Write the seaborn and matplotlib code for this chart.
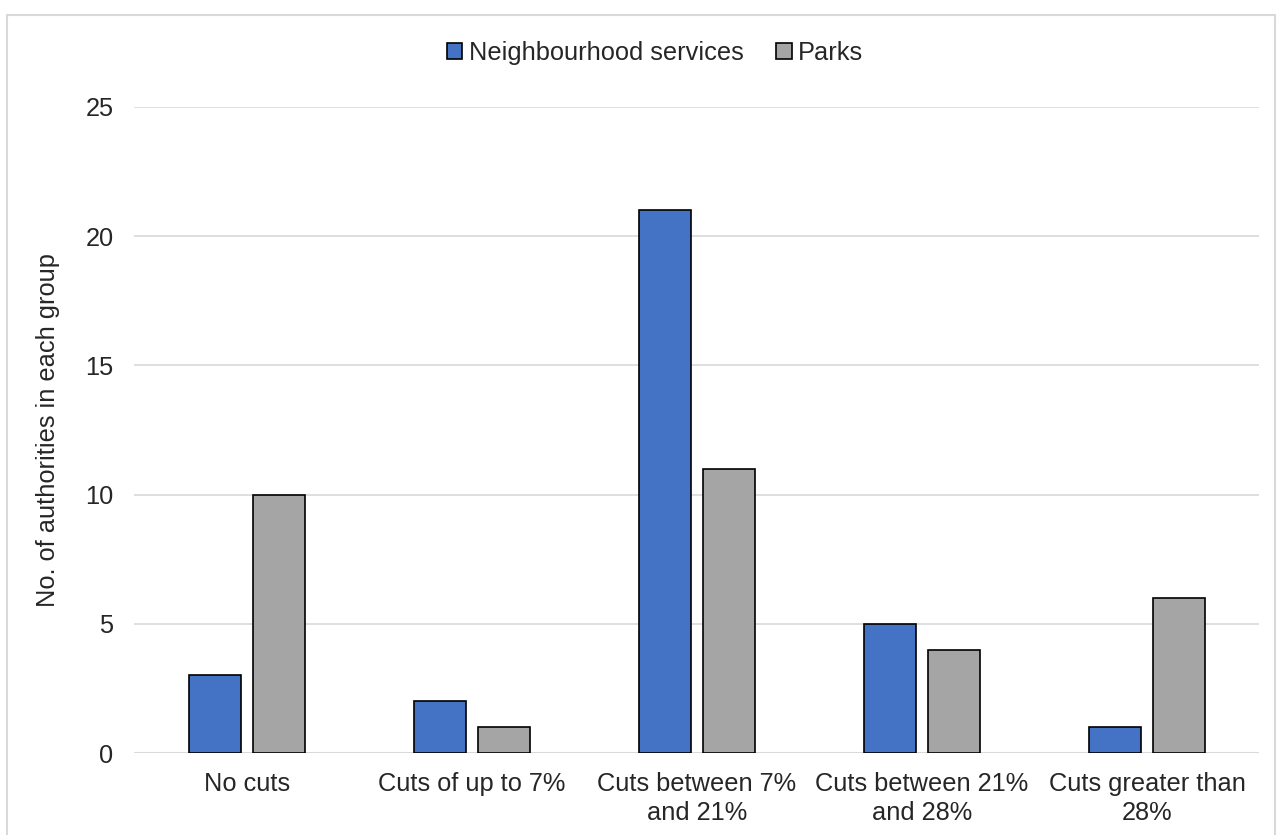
import matplotlib
matplotlib.use("Agg")
import matplotlib.pyplot as plt
from matplotlib.patches import Rectangle
import pandas as pd
import seaborn as sns

categories = [
    "No cuts",
    "Cuts of up to 7%",
    "Cuts between 7%\nand 21%",
    "Cuts between 21%\nand 28%",
    "Cuts greater than\n28%",
]
neighbourhood_services = [3, 2, 21, 5, 1]
parks = [10, 1, 11, 4, 6]
series_names = ["Neighbourhood services", "Parks"]
y_ticks = [0, 5, 10, 15, 20, 25]

df = pd.DataFrame({
    "category": categories * 2,
    "series": [series_names[0]] * len(categories) + [series_names[1]] * len(categories),
    "value": neighbourhood_services + parks,
})

sns.set_theme(style="white")
plt.rcParams["font.family"] = ["Liberation Sans", "DejaVu Sans"]

fig = plt.figure(figsize=(12.78, 8.35), dpi=100)
ax = fig.add_axes([0.1052, 0.0982, 0.8803, 0.7737])

palette = {series_names[0]: "#4472C4", series_names[1]: "#A5A5A5"}
sns.barplot(
    data=df, x="category", y="value", hue="series", order=categories,
    hue_order=series_names, palette=palette, width=0.569, gap=0.1875,
    edgecolor="black", linewidth=1.2, saturation=1, ax=ax,
)

ax.set_ylim(0, 25)
ax.set_yticks(y_ticks)
ax.set_xlim(-0.5, len(categories) - 0.5)
ax.yaxis.grid(True, color="#d9d9d9", linewidth=1.2)
ax.set_axisbelow(True)
for s in ax.spines.values():
    s.set_visible(False)
ax.axhline(0, color="#d9d9d9", linewidth=1.5, zorder=0.5)
ax.tick_params(axis="both", length=0, labelsize=18.3, colors="#262626")
ax.tick_params(axis="y", pad=15)
ax.tick_params(axis="x", pad=14)
for lbl in ax.get_xticklabels():
    lbl.set_linespacing(1.25)
ax.set_xlabel("")
ax.set_ylabel("No. of authorities in each group", fontsize=18.3, color="#262626", labelpad=18)

leg = ax.legend(
    loc="center", bbox_to_anchor=(655 / 1278, 1 - 53 / 835), bbox_transform=fig.transFigure,
    ncol=2, frameon=False, fontsize=18.3, handlelength=0.6, handleheight=0.6,
    handletextpad=0.25, columnspacing=1.3,
)
for t in leg.get_texts():
    t.set_color("#262626")

fig.patches.append(Rectangle(
    (7 / 1278, -0.02), (1275 - 7) / 1278, 1 - 15 / 835 + 0.02,
    transform=fig.transFigure, fill=False, edgecolor="#d9d9d9", linewidth=1.5,
))

fig.savefig("out.png", dpi=100, facecolor="white")
